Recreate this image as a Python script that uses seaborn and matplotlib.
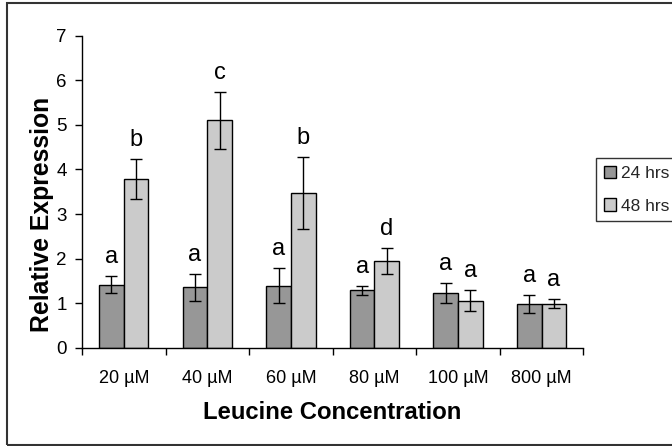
import matplotlib
matplotlib.use("Agg")
import matplotlib.pyplot as plt
import seaborn as sns
import pandas as pd
from matplotlib.patches import Rectangle

concentrations = ["20 µM", "40 µM", "60 µM", "80 µM", "100 µM", "800 µM"]
series_names = ["24 hrs", "48 hrs"]
values_24 = [1.42, 1.36, 1.39, 1.29, 1.23, 0.99]
errors_24 = [0.20, 0.30, 0.39, 0.10, 0.23, 0.20]
letters_24 = ["a", "a", "a", "a", "a", "a"]
values_48 = [3.78, 5.10, 3.47, 1.94, 1.06, 0.99]
errors_48 = [0.45, 0.63, 0.81, 0.29, 0.23, 0.10]
letters_48 = ["b", "c", "b", "d", "a", "a"]
y_ticks = [0, 1, 2, 3, 4, 5, 6, 7]

sns.set_theme(style="white")
plt.rcParams["font.family"] = ["Liberation Sans", "DejaVu Sans"]

df = pd.DataFrame({
    "conc": concentrations * 2,
    "value": values_24 + values_48,
    "time": [series_names[0]] * 6 + [series_names[1]] * 6,
})

fig = plt.figure(figsize=(6.72, 4.46), dpi=100)
ax = fig.add_axes([0.122, 0.22, 0.746, 0.70])

sns.barplot(data=df, x="conc", y="value", hue="time", order=concentrations,
            hue_order=series_names, palette=["#979797", "#cbcbcb"],
            edgecolor="black", linewidth=1.0, errorbar=None, width=0.59,
            gap=0, ax=ax, legend=True)

bars = [p for p in ax.patches if p.get_height() > 0 and p.get_width() < 1][:12]
bars = sorted(bars, key=lambda p: p.get_x())
all_vals = []
for i in range(6):
    all_vals.append((values_24[i], errors_24[i], letters_24[i]))
    all_vals.append((values_48[i], errors_48[i], letters_48[i]))
for p, (v, e, l) in zip(bars, all_vals):
    cx = p.get_x() + p.get_width() / 2
    ax.errorbar(cx, v, yerr=e, fmt="none", ecolor="black", elinewidth=1.0,
                capsize=4.5, capthick=1.0)
    ax.text(cx, v + e + 0.18, l, ha="center", va="bottom", fontsize=17,
            color="black")

ax.set_xlim(-0.5, 5.5)
ax.set_ylim(0, 7)
ax.set_yticks(y_ticks)
ax.set_xticks([i - 0.5 for i in range(7)], minor=False)
ax.set_xticklabels([])
ax.set_xticks(range(6), minor=True)
ax.set_xticklabels(concentrations, minor=True)
ax.tick_params(axis="x", which="major", direction="out", length=5, width=1,
               color="black", bottom=True)
ax.tick_params(axis="x", which="minor", length=0, labelsize=13, pad=16,
               labelcolor="black")
ax.tick_params(axis="y", direction="out", length=5, width=1, color="black",
               left=True, labelsize=13.5, pad=6, labelcolor="black")
for s in ["top", "right"]:
    ax.spines[s].set_visible(False)
for s in ["left", "bottom"]:
    ax.spines[s].set_color("black")
    ax.spines[s].set_linewidth(1.0)

ax.set_xlabel("Leucine Concentration", fontsize=17.2, fontweight="bold",
              labelpad=10, color="black")
ax.set_ylabel("Relative Expression", fontsize=17.8, fontweight="bold",
              color="black")
ax.yaxis.set_label_coords(-0.056, 0.426)

leg = ax.legend(loc="upper left", bbox_to_anchor=(1.025, 0.608), frameon=True,
                fontsize=12.5, handlelength=0.7, handleheight=0.7,
                handletextpad=0.3, borderpad=0.45, labelspacing=1.0,
                fancybox=False, edgecolor="black", borderaxespad=0)
leg.get_frame().set_linewidth(1.0)

fig.patches.append(Rectangle((7 / 672, 1 / 446), 1.2, 442 / 446,
                             transform=fig.transFigure, fill=False,
                             edgecolor="#333333", linewidth=1.5))

fig.savefig("out.png", dpi=100)
